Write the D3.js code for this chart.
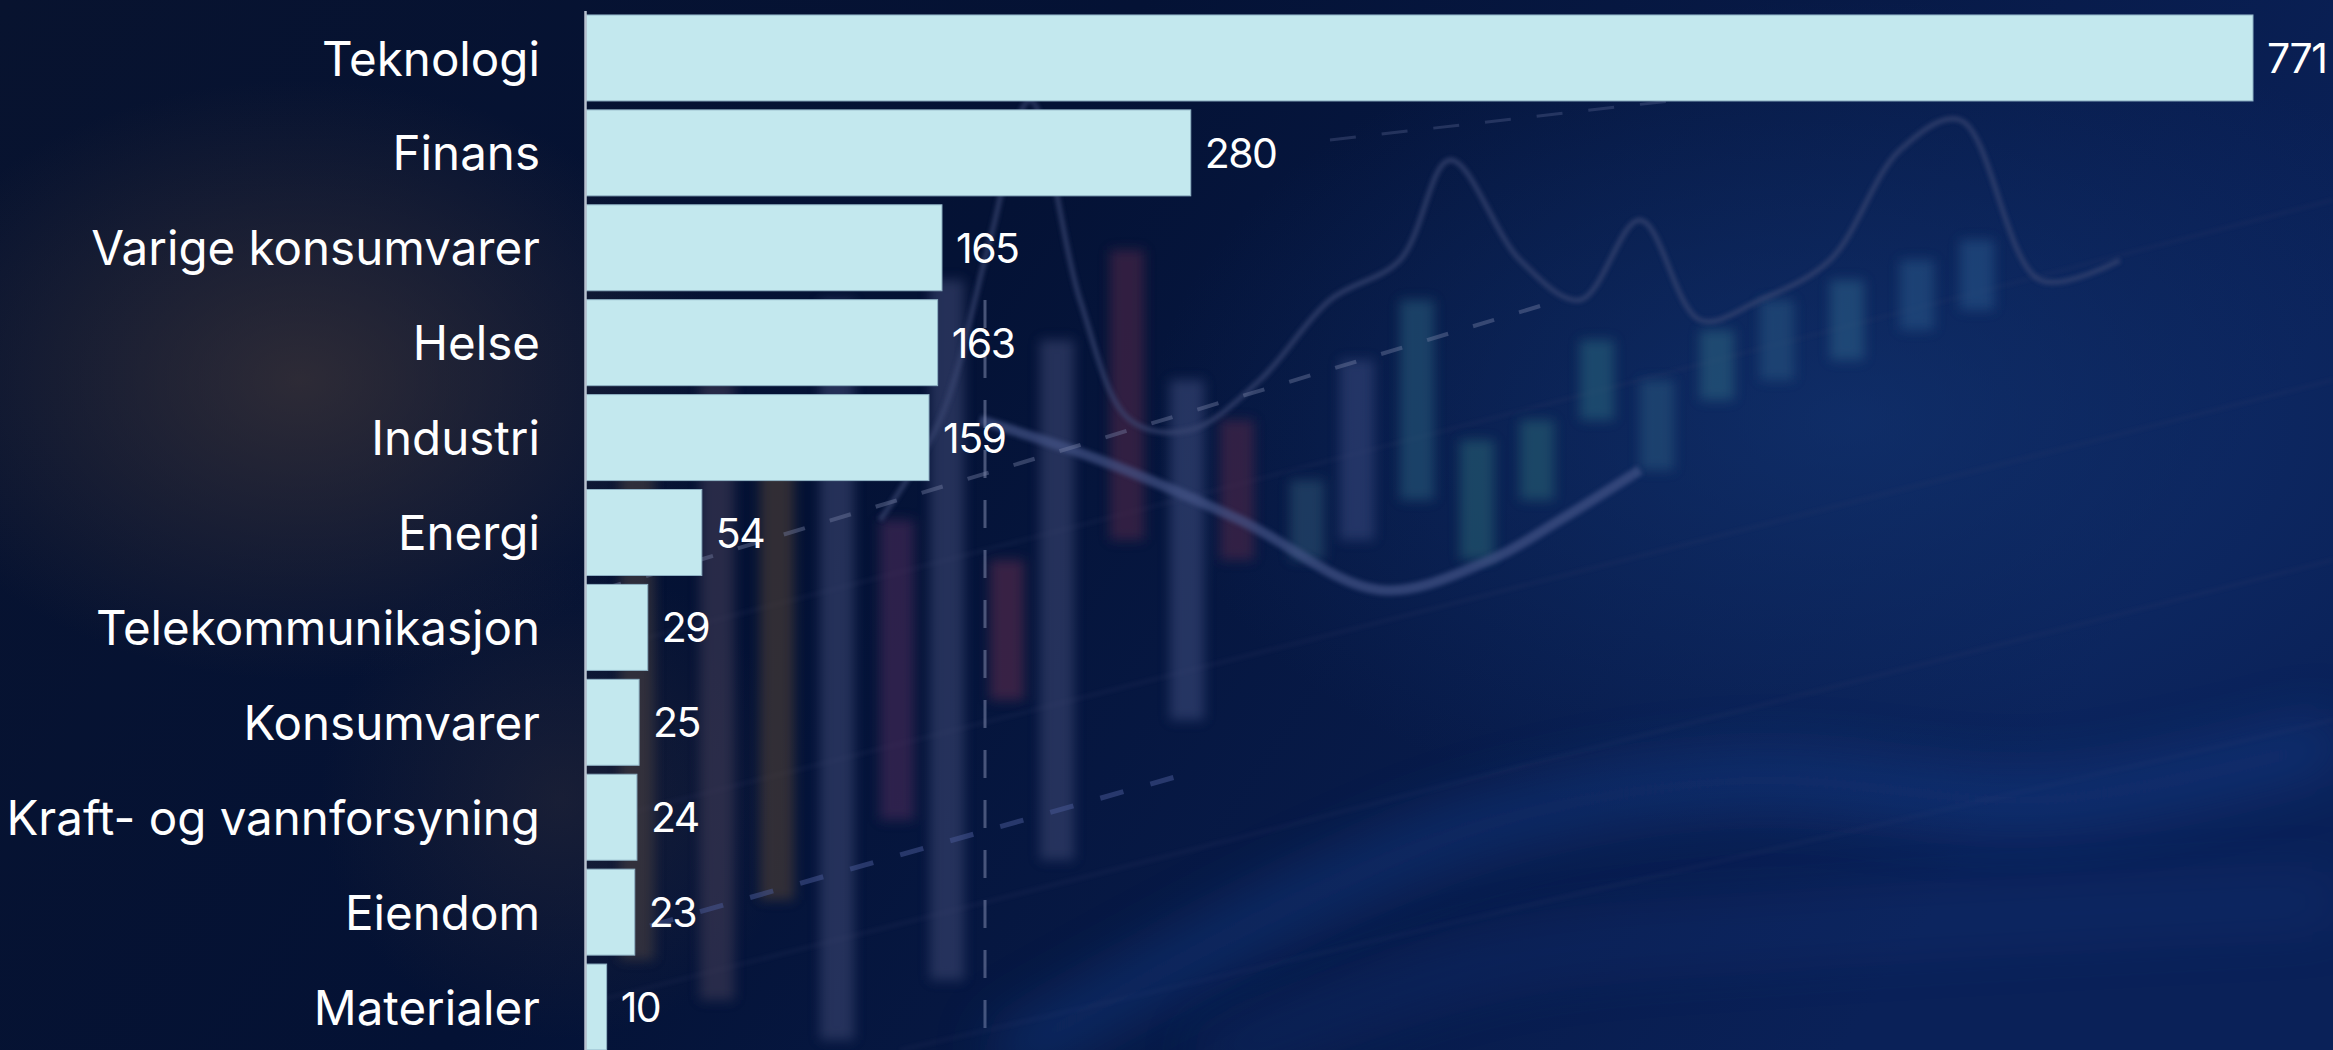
<!DOCTYPE html>
<html>
<head>
<meta charset="utf-8">
<script src="https://cdn.jsdelivr.net/npm/d3@7"></script>
<style>
  html, body { margin: 0; padding: 0; background: #061233; overflow: hidden; }
  svg { display: block; }
</style>
</head>
<body>
<svg id="chart" width="2333" height="1050"></svg>
<script>
// ---- data ----
const categories = ["Teknologi", "Finans", "Varige konsumvarer", "Helse", "Industri", "Energi",
  "Telekommunikasjon", "Konsumvarer", "Kraft- og vannforsyning", "Eiendom", "Materialer"];
const values = [771, 280, 165, 163, 159, 54, 29, 25, 24, 23, 10];

// ---- decorative backdrop (blurred trading-screen photo imitation) ----
const candleX = [620, 700, 760, 820, 880, 930, 990, 1040, 1110, 1170, 1220, 1290, 1340, 1400, 1460, 1520, 1580, 1640, 1700, 1760, 1830, 1900, 1960];
const candleTop = [420, 380, 440, 300, 520, 280, 560, 340, 250, 380, 420, 480, 360, 300, 440, 420, 340, 380, 330, 300, 280, 260, 240];
const candleBot = [960, 1000, 900, 1040, 820, 980, 700, 860, 540, 720, 560, 560, 540, 500, 560, 500, 420, 470, 400, 380, 360, 330, 310];
const candleCol = ["#4a4040", "#3f3a55", "#4f4035", "#3a4470", "#4a2c58", "#3a4470", "#5a2c4c", "#3a4470", "#4f2846",
  "#3a4878", "#4f2846", "#2a5070", "#364478", "#285878", "#285f72", "#285f72", "#28607a", "#28527a", "#2a607e", "#28527e", "#2a5c84", "#285284", "#285286"];
const waveX = [880, 940, 990, 1030, 1080, 1130, 1190, 1260, 1330, 1400, 1450, 1520, 1580, 1640, 1700, 1760, 1830, 1900, 1960, 2040, 2120];
const waveY = [520, 420, 240, 100, 300, 420, 430, 380, 300, 260, 160, 260, 300, 220, 320, 300, 260, 150, 120, 280, 260];

const svg = d3.select("#chart");
const W = 2333, H = 1050;
const defs = svg.append("defs");

const bgGrad = defs.append("linearGradient").attr("id", "bgGrad").attr("x1", "0").attr("x2", "1").attr("y1", "0").attr("y2", "0.3");
bgGrad.append("stop").attr("offset", "0").attr("stop-color", "#08132f");
bgGrad.append("stop").attr("offset", "0.45").attr("stop-color", "#041235");
bgGrad.append("stop").attr("offset", "1").attr("stop-color", "#0a2158");

const glow = defs.append("radialGradient").attr("id", "glowR").attr("cx", "0.5").attr("cy", "0.5").attr("r", "0.5");
glow.append("stop").attr("offset", "0").attr("stop-color", "#143878").attr("stop-opacity", 0.6);
glow.append("stop").attr("offset", "1").attr("stop-color", "#143878").attr("stop-opacity", 0);

const warm = defs.append("radialGradient").attr("id", "warm").attr("cx", "0.5").attr("cy", "0.5").attr("r", "0.5");
warm.append("stop").attr("offset", "0").attr("stop-color", "#3e3538").attr("stop-opacity", 0.7);
warm.append("stop").attr("offset", "1").attr("stop-color", "#3e3538").attr("stop-opacity", 0);

[["blur6", 6], ["blur30", 30], ["blur2", 2]].forEach(([id, s]) => {
  defs.append("filter").attr("id", id).attr("x", "-50%").attr("y", "-50%").attr("width", "200%").attr("height", "200%")
    .append("feGaussianBlur").attr("stdDeviation", s);
});

const bg = svg.append("g").attr("class", "backdrop");
bg.append("rect").attr("width", W).attr("height", H).attr("fill", "url(#bgGrad)");
bg.append("ellipse").attr("cx", 1850).attr("cy", 420).attr("rx", 700).attr("ry", 420).attr("fill", "url(#glowR)");
bg.append("ellipse").attr("cx", 300).attr("cy", 380).attr("rx", 420).attr("ry", 300).attr("fill", "url(#warm)");
bg.append("ellipse").attr("cx", 560).attr("cy", 800).attr("rx", 240).attr("ry", 240).attr("fill", "url(#warm)").attr("opacity", 0.5);

// faint diagonal grid lines
const diag = bg.append("g").attr("stroke", "#3a3f6a").attr("stroke-width", 2).attr("opacity", 0.3).attr("filter", "url(#blur2)");
[[600, 820, 2333, 380], [600, 1000, 2333, 560], [900, 1050, 2333, 720], [600, 650, 2333, 200]].forEach(d => {
  diag.append("line").attr("x1", d[0]).attr("y1", d[1]).attr("x2", d[2]).attr("y2", d[3]);
});
[1250, 1430, 1740].forEach(xx => {
  bg.append("line").attr("x1", xx).attr("x2", xx).attr("y1", 0).attr("y2", H)
    .attr("stroke", "#3a2f5a").attr("stroke-width", 2).attr("opacity", 0.4).attr("filter", "url(#blur2)");
});

// candles
const cg = bg.append("g").attr("filter", "url(#blur6)").attr("opacity", 0.6);
candleX.forEach((cx, i) => {
  cg.append("rect").attr("x", cx).attr("y", candleTop[i]).attr("width", 34)
    .attr("height", candleBot[i] - candleTop[i]).attr("fill", candleCol[i]);
});

// wavy line
const waveLine = d3.line().x(d => d[0]).y(d => d[1]).curve(d3.curveCatmullRom);
bg.append("path").attr("d", waveLine(waveX.map((xx, i) => [xx, waveY[i]])))
  .attr("fill", "none").attr("stroke", "#3a4672").attr("stroke-width", 5).attr("opacity", 0.7).attr("filter", "url(#blur2)");

// trend line through candles
bg.append("path").attr("d", waveLine([[980, 420], [1100, 460], [1240, 520], [1380, 590], [1490, 560], [1560, 520], [1640, 470]]))
  .attr("fill", "none").attr("stroke", "#46568a").attr("stroke-width", 10).attr("opacity", 0.65).attr("filter", "url(#blur2)");

// dashed lines
bg.append("line").attr("x1", 985).attr("x2", 985).attr("y1", 300).attr("y2", H)
  .attr("stroke", "#8a94b8").attr("stroke-width", 3).attr("stroke-dasharray", "28 22").attr("opacity", 0.5);
bg.append("line").attr("x1", 600).attr("y1", 590).attr("x2", 1560).attr("y2", 300)
  .attr("stroke", "#7a84a8").attr("stroke-width", 4).attr("stroke-dasharray", "22 26").attr("opacity", 0.4);
bg.append("line").attr("x1", 600).attr("y1", 940).attr("x2", 1200).attr("y2", 770)
  .attr("stroke", "#4a5a98").attr("stroke-width", 5).attr("stroke-dasharray", "24 28").attr("opacity", 0.5);
bg.append("line").attr("x1", 1330).attr("y1", 140).attr("x2", 2200).attr("y2", 40)
  .attr("stroke", "#6a74a0").attr("stroke-width", 3).attr("stroke-dasharray", "26 26").attr("opacity", 0.3);

// blue glowing curves bottom-right
bg.append("path").attr("d", waveLine([[1000, 1060], [1300, 900], [1500, 820], [1750, 780], [2050, 800], [2340, 740]]))
  .attr("fill", "none").attr("stroke", "#1d4a9c").attr("stroke-width", 40).attr("opacity", 0.5).attr("filter", "url(#blur30)");
bg.append("path").attr("d", waveLine([[1200, 1060], [1500, 960], [1800, 930], [2340, 900]]))
  .attr("fill", "none").attr("stroke", "#1d4090").attr("stroke-width", 30).attr("opacity", 0.35).attr("filter", "url(#blur30)");

// ---- chart ----
const x0 = 585;
const x = d3.scaleLinear().domain([0, 771]).range([x0, 2253]);
const y = d3.scaleBand().domain(categories).range([10.5, 1054.5]).paddingInner(0.094).paddingOuter(0.047);

const g = svg.append("g");

g.selectAll("rect.bar").data(categories).join("rect")
  .attr("class", "bar")
  .attr("x", x(0) + 1)
  .attr("y", d => y(d))
  .attr("width", (d, i) => x(values[i]) - x(0) - 1)
  .attr("height", y.bandwidth())
  .attr("fill", "#c3e8ee")
  .attr("stroke", "#8fb2c4")
  .attr("stroke-width", 1);

g.selectAll("text.val").data(categories).join("text")
  .attr("class", "val")
  .attr("x", (d, i) => x(values[i]) + 14)
  .attr("y", d => y(d) + y.bandwidth() / 2 + 15)
  .attr("fill", "#ffffff")
  .attr("font-family", "Inter, 'Noto Sans', sans-serif")
  .attr("font-size", 41)
  .attr("letter-spacing", -1.5)
  .text((d, i) => values[i]);

const axis = d3.axisLeft(y).tickSize(0).tickPadding(45);
const ag = svg.append("g").attr("transform", `translate(${x0},0)`).call(axis);
ag.select(".domain").attr("stroke", "#b9c2cf").attr("stroke-width", 2.5);
ag.selectAll(".tick text")
  .attr("fill", "#ffffff")
  .attr("font-family", "Inter, 'Noto Sans', sans-serif")
  .attr("font-size", 47.5)
  .attr("font-weight", 400)
  .attr("dy", "0.37em");
</script>
</body>
</html>
